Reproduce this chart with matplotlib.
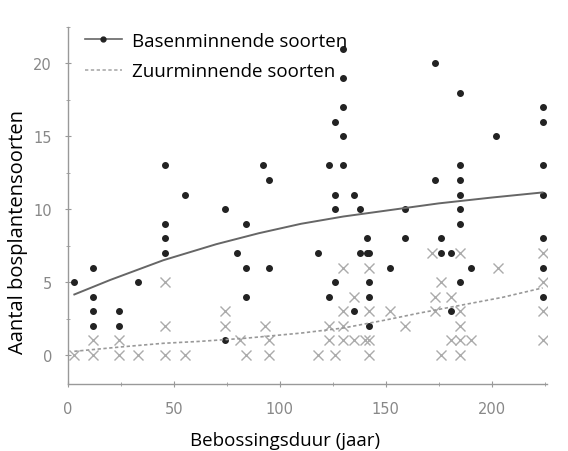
import matplotlib
matplotlib.use("Agg")
import matplotlib.pyplot as plt
from matplotlib.lines import Line2D

# Basenminnende soorten (black dots)
base_x = [3, 12, 12, 12, 12, 24, 24, 33, 46, 46, 46, 46, 55, 74, 74, 80, 84, 84, 84,
          92, 95, 95, 118, 123, 123, 126, 126, 126, 126, 130, 130, 130, 130, 130,
          135, 135, 138, 138, 141, 141, 142, 142, 142, 142, 152, 159, 159, 173, 173,
          176, 176, 181, 181, 185, 185, 185, 185, 185, 185, 185, 190, 202,
          224, 224, 224, 224, 224, 224, 224]
base_y = [5, 6, 4, 3, 2, 3, 2, 5, 13, 9, 8, 7, 11, 10, 1, 7, 9, 6, 4,
          13, 12, 6, 7, 13, 4, 16, 11, 10, 5, 21, 19, 17, 15, 13,
          11, 3, 10, 7, 8, 7, 7, 5, 4, 2, 6, 10, 8, 20, 12,
          8, 7, 7, 3, 18, 13, 12, 11, 10, 9, 5, 6, 15,
          17, 16, 13, 11, 8, 6, 4]

# Zuurminnende soorten (crosses)
zuur_x = [3, 12, 12, 24, 24, 33, 46, 46, 46, 55, 74, 74, 81, 84, 93, 95, 95, 118,
          123, 123, 126, 130, 130, 130, 130, 135, 135, 140, 142, 142, 142, 142,
          152, 159, 172, 173, 173, 176, 176, 181, 181, 185, 185, 185, 185, 185,
          190, 203, 224, 224, 224, 224]
zuur_y = [0, 1, 0, 1, 0, 0, 5, 2, 0, 0, 3, 2, 1, 0, 2, 1, 0, 0,
          2, 1, 0, 6, 3, 2, 1, 4, 1, 1, 6, 3, 1, 0,
          3, 2, 7, 4, 3, 5, 0, 4, 1, 7, 3, 2, 1, 0,
          1, 6, 7, 5, 3, 1]

# Trend lines
base_fit_x = [3, 20, 45, 70, 90, 110, 130, 150, 175, 200, 224]
base_fit_y = [4.15, 5.15, 6.5, 7.6, 8.35, 9.0, 9.5, 9.9, 10.4, 10.8, 11.15]
zuur_fit_x = [3, 25, 45, 62, 84, 110, 130, 150, 165, 185, 205, 224]
zuur_fit_y = [0.25, 0.55, 0.8, 0.93, 1.15, 1.5, 1.85, 2.4, 2.85, 3.4, 3.95, 4.6]

xticks = [0, 50, 100, 150, 200]
yticks = [0, 5, 10, 15, 20]
labels = ["Basenminnende soorten", "Zuurminnende soorten"]
xlabel = "Bebossingsduur (jaar)"
ylabel = "Aantal bosplantensoorten"

fig = plt.figure(figsize=(5.68, 4.52), dpi=100)
ax = fig.add_axes([0.1197, 0.148, 0.843, 0.790])

ax.plot(zuur_x, zuur_y, linestyle="none", marker="x", markersize=7,
        markeredgewidth=1.0, color="#ababab", zorder=2)
ax.plot(base_x, base_y, linestyle="none", marker="o", markersize=4,
        color="#222222", zorder=3)
ax.plot(base_fit_x, base_fit_y, color="#666666", linewidth=1.4, zorder=4)
ax.plot(zuur_fit_x, zuur_fit_y, color="#999999", linewidth=1.2,
        linestyle=(0, (2, 1.5)), zorder=4)

ax.set_xlim(0, 226)
ax.set_ylim(-2, 22.3)
for s in ["top", "right"]:
    ax.spines[s].set_visible(False)
for s in ["left", "bottom"]:
    ax.spines[s].set_color("#999999")
    ax.spines[s].set_linewidth(1.0)

ax.set_xticks(xticks)
ax.set_yticks(yticks)
ax.set_xticks([25, 75, 125, 175, 225], minor=True)
ax.set_yticks([2.5, 7.5, 12.5, 17.5, 22.5], minor=True)
ax.tick_params(axis="both", which="both", direction="inout", color="#999999",
               labelcolor="#888888", labelsize=10.5)
ax.tick_params(which="major", length=5)
ax.tick_params(which="minor", length=3)
ax.tick_params(axis="x", pad=10)
ax.tick_params(axis="y", pad=9)

ax.set_xlabel(xlabel, fontsize=13.5, family="Open Sans")
ax.set_ylabel(ylabel, fontsize=14.5, family="Open Sans")
ax.xaxis.set_label_coords(0.453, -0.132)
ax.yaxis.set_label_coords(-0.0835, 0.43)

handles = [Line2D([], [], color="#666666", linewidth=1.2, marker="o",
                  markersize=3.5, markerfacecolor="#222222", markeredgecolor="#222222"),
           Line2D([], [], color="#aaaaaa", linewidth=1.2, linestyle=(0, (2, 1.5)))]
ax.legend(handles, labels, loc="upper left", bbox_to_anchor=(0.035, 0.986),
          borderaxespad=0, borderpad=0,
          frameon=False, handlelength=2.0, handletextpad=0.5, labelspacing=0.65,
          prop={"family": "Open Sans", "size": 13.5})

fig.savefig("out.png", dpi=100)
